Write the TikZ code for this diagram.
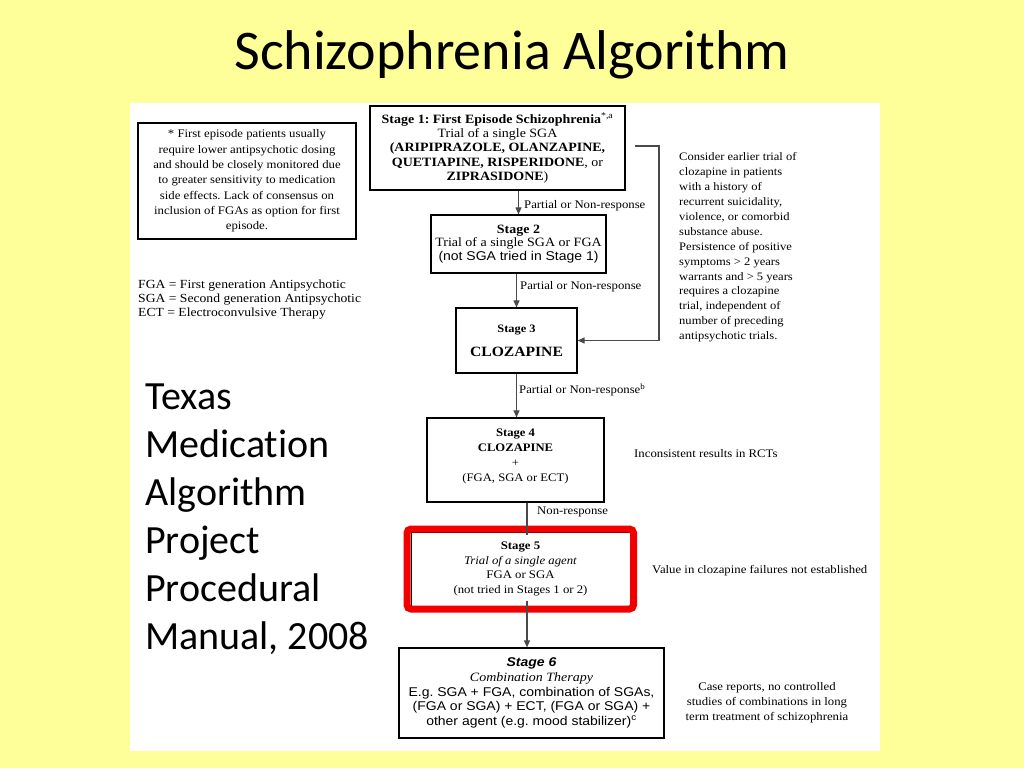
\documentclass[tikz,border=0pt]{standalone}
\usepackage{fontspec}
\newfontfamily\tnr[FakeStretch=1.1]{Liberation Serif}
\newfontfamily\ari[FakeStretch=1.1]{Liberation Sans}
\newfontfamily\calfont[Ligatures=NoCommon]{Carlito}
\usetikzlibrary{arrows.meta}
\definecolor{slideyellow}{HTML}{FFFF99}
\definecolor{hired}{HTML}{F20000}
\definecolor{linegray}{HTML}{4A4A4A}
\newcommand{\fsz}[2]{\fontsize{#1pt}{#2pt}\selectfont}
\frenchspacing
\begin{document}
\begin{tikzpicture}[x=1pt,y=-1pt,
  box/.style={draw=black, line width=1.2pt, inner sep=0pt, align=center},
  txt/.style={inner sep=0pt},
  small/.style={font=\tnr\fsz{11.6}{15}},
  big/.style={font=\tnr\fsz{12.7}{14.3}},
  arr/.style={draw=linegray, line width=1.1pt, -{Triangle[length=7pt,width=6pt]}},
  conn/.style={draw=linegray, line width=1.1pt}]
\fill[slideyellow] (0,0) rectangle (1024,768);
\useasboundingbox (0,0) rectangle (1024,768);
\fill[white] (130,103) rectangle (880,751);

% title and side text
\node[txt, font=\calfont\fsz{56}{60}, anchor=base] (title) at (512,69) {Schizophrenia Algorithm};
\node[txt, font=\calfont\fsz{40}{48}, anchor=west, align=left] (tmap) at (145,519)
  {Texas\\Medication\\Algorithm\\Project\\Procedural\\Manual, 2008};

% note box and legend
\node[box, font=\tnr\fsz{11.6}{15.3}, minimum width=218pt, minimum height=116pt] (note) at (247,181)
  {* First episode patients usually\\require lower antipsychotic dosing\\and should be closely monitored due\\to greater sensitivity to medication\\side effects. Lack of consensus on\\inclusion of FGAs as option for first\\episode.};
\node[txt, font=\tnr\fsz{12.4}{14}, anchor=west, align=left] (legend) at (138,300)
  {FGA = First generation Antipsychotic\\SGA = Second generation Antipsychotic\\ECT = Electroconvulsive Therapy};

% stages
\node[box, big, minimum width=255pt, minimum height=84pt] (s1) at (497.5,148)
  {\textbf{Stage 1: First Episode Schizophrenia}\textsuperscript{*,a}\\Trial of a single SGA\\\textbf{(ARIPIPRAZOLE, OLANZAPINE,}\\\textbf{QUETIAPINE, RISPERIDONE}, or\\\textbf{ZIPRASIDONE})};
\node[box, font=\tnr\fsz{12.7}{13.5}, minimum width=175pt, minimum height=58pt] (s2) at (518.5,244)
  {\textbf{Stage 2}\\Trial of a single SGA or FGA\\{\ari\fsz{12.7}{13.5}(not SGA tried in Stage 1)}};
\node[box, font=\tnr\fsz{11.3}{14}, minimum width=121pt, minimum height=65pt] (s3) at (516.5,340.5)
  {\textbf{Stage 3}\\[10pt]{\fsz{14.2}{16}\bfseries CLOZAPINE}};
\node[box, font=\tnr\fsz{11.5}{15}, minimum width=177pt, minimum height=84pt] (s4) at (515.5,460)
  {\textbf{Stage 4}\\\textbf{CLOZAPINE}\\+\\(FGA, SGA or ECT)\\[-6pt]\mbox{}};
\node[box, font=\tnr\fsz{11.6}{14.7}, line width=1pt, minimum width=219pt, minimum height=74pt] (s5) at (520.5,569)
  {\textbf{Stage 5}\\\textit{Trial of a single agent}\\FGA or SGA\\(not tried in Stages 1 or 2)};
\node[box, font=\ari\fsz{12.7}{14.6}, minimum width=265pt, minimum height=90pt] (s6) at (531.5,693)
  {\textbf{\textit{Stage 6}}\\{\tnr\itshape Combination Therapy}\\E.g. SGA + FGA, combination of SGAs,\\(FGA or SGA) + ECT, (FGA or SGA) +\\other agent (e.g. mood stabilizer)\textsuperscript{c}};

% red highlight
\draw[hired, line width=7pt, rounded corners=4pt]
  ([shift={(-3.5,-2.5)}]s5.north west) rectangle ([shift={(3,2.5)}]s5.south east);

% connectors
\coordinate (c5x) at (527,0);
\coordinate (r0) at (635,146);
\draw[arr] (s2.north |- s1.south) -- (s2.north);
\draw[arr] (s3.north |- s2.south) -- (s3.north);
\draw[arr] (s3.south) -- (s3.south |- s4.north);
\draw[conn] (c5x |- s4.south) -- ([yshift=-3pt]c5x |- s5.north);
\draw[arr] ([yshift=6pt]c5x |- s5.south) -- (c5x |- s6.north);
\draw[arr] (r0) -- (659,146) |- (s3.east);

% connector labels
\node[txt, small, anchor=west] (l1) at (524,206) {Partial or Non-response};
\node[txt, small, anchor=west] (l2) at (520,287) {Partial or Non-response};
\node[txt, small, anchor=west] (l3) at (519,390) {Partial or Non-response\textsuperscript{b}};
\node[txt, small, anchor=west] (l4) at (537,512) {Non-response};

% side annotations
\node[txt, font=\tnr\fsz{11.4}{14.9}, anchor=west, align=left] (rnote) at (679,247.5)
  {Consider earlier trial of\\clozapine in patients\\with a history of\\recurrent suicidality,\\violence, or comorbid\\substance abuse.\\Persistence of positive\\symptoms > 2 years\\warrants and > 5 years\\requires a clozapine\\trial, independent of\\number of preceding\\antipsychotic trials.};
\node[txt, small, anchor=west] (inc) at (634,454) {Inconsistent results in RCTs};
\node[txt, small, anchor=west] (val) at (652,571) {Value in clozapine failures not established};
\node[txt, small, align=center] (case) at (767,703)
  {Case reports, no controlled\\studies of combinations in long\\term treatment of schizophrenia};
\end{tikzpicture}
\end{document}
